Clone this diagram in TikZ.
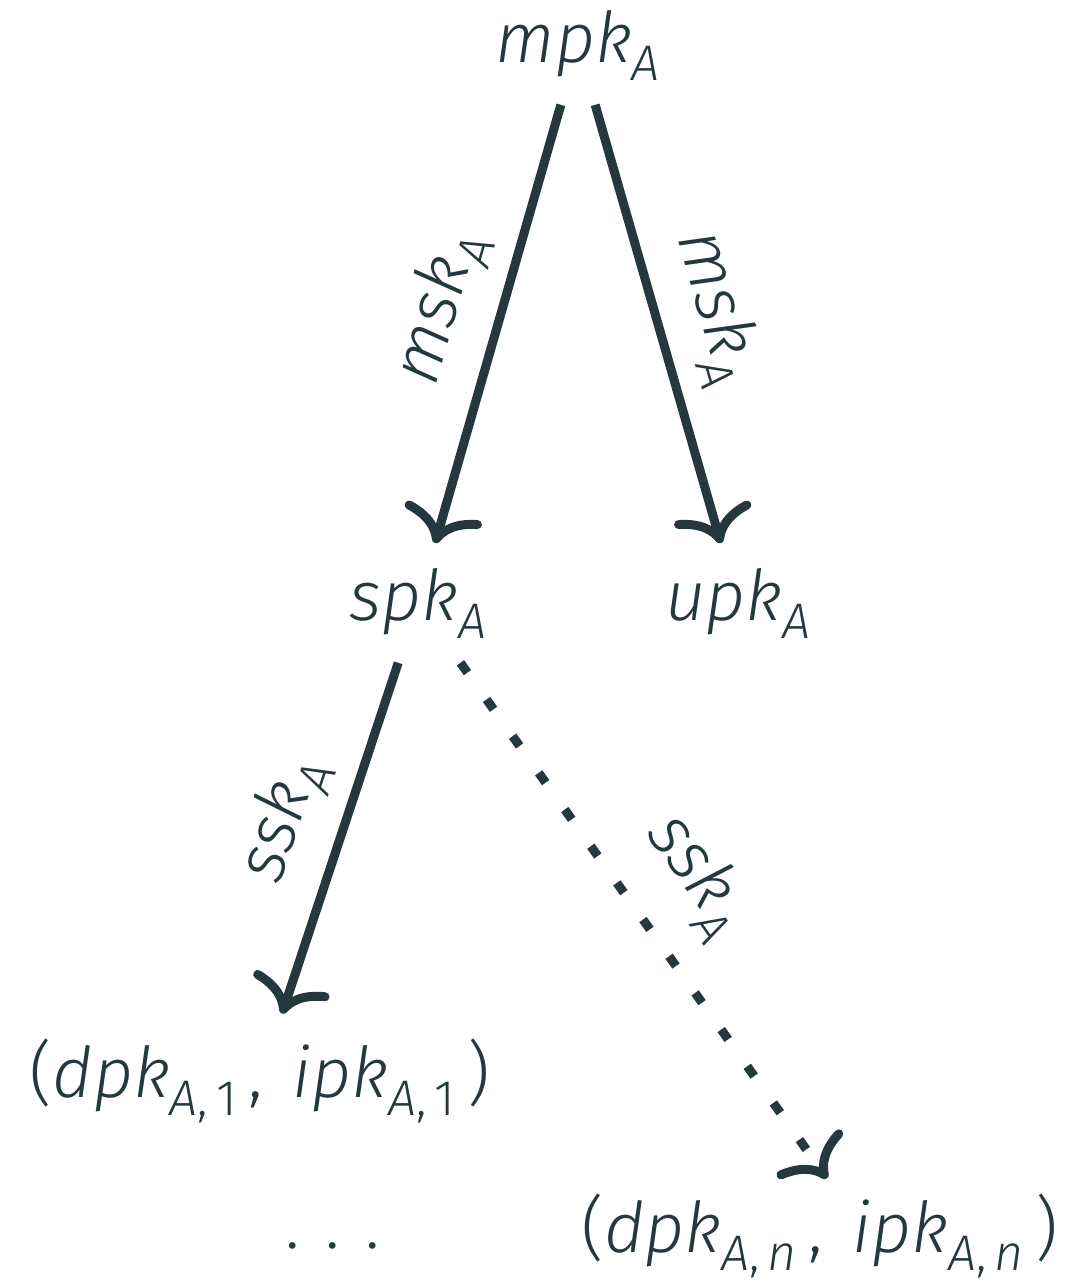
\documentclass[tikz,border=0pt]{standalone}
\usepackage{fontspec}
\setmainfont{Fira Sans}[UprightFont={* Light}, ItalicFont={* Light Italic}]
\usetikzlibrary{arrows.meta}
\definecolor{ink}{RGB}{36,56,61}
% lowered, smaller index text
\newcommand\sbs[1]{\raisebox{-4.5pt}{\fontsize{12.5}{14}\selectfont #1}}
% italic key name with italic index
\newcommand\keyname[2]{\textit{#1}\sbs{\textit{#2}}}
% key name with a two-part index
\newcommand\pairkey[2]{\textit{#1}\sbs{\textit{A},\hspace{2pt}#2}\hspace{3pt}}
\begin{document}
\begin{tikzpicture}[x=0.25pt,y=-0.25pt,
  obj/.style={anchor=base, inner sep=6pt, text=ink, font=\fontsize{17.5}{21}\selectfont},
  arr/.style={draw=ink, line width=2.25pt,
    -{Computer Modern Rightarrow[length=8.5pt,width=20pt]}},
  dotarr/.style={arr, dash pattern=on 3pt off 8.25pt},
  lbl/.style={sloped, above=3pt, inner sep=2pt, text=ink, font=\fontsize{17.5}{21}\selectfont}]
\useasboundingbox (0,0) rectangle (1076,1287);

\node[obj] (mpk) at (578,62) {\keyname{mpk}{A}};
\node[obj] (spk) at (418,620) {\keyname{spk}{A}};
\node[obj] (upk) at (738,620) {\keyname{upk}{A}};
\node[obj] (pone) at (260,1097)
  {(\pairkey{dpk}{1},\hspace{2.5pt} \pairkey{ipk}{1})};
\node[obj] (dots) at (333,1248)
  {\makebox[10pt]{.}\makebox[10pt]{.}\makebox[10pt]{.}};
\node[obj] (pn) at (820,1252)
  {(\pairkey{dpk}{\textit{n}},\hspace{2.5pt} \pairkey{ipk}{\textit{n}})};

\draw[arr] (mpk) -- node[lbl] {\keyname{msk}{A}} (spk);
\draw[arr] (mpk) -- node[lbl] {\keyname{msk}{A}} (upk);
\draw[arr] (spk) -- node[lbl] {\keyname{ssk}{A}} (pone);
\draw[dotarr, shorten >=-3pt] (spk) -- node[lbl, pos=0.5, above=2.5pt] {\keyname{ssk}{A}} (pn.north);
\end{tikzpicture}
\end{document}
